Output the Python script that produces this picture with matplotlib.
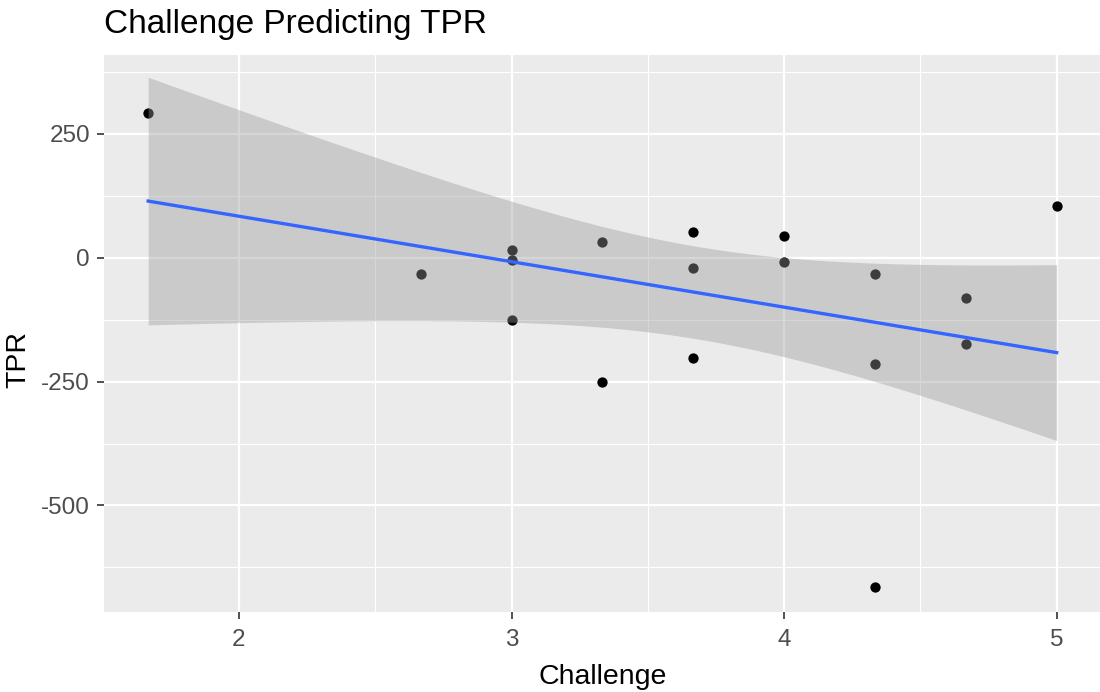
import numpy as np
import matplotlib.pyplot as plt

# data
challenge = [1.667, 2.667, 3.0, 3.0, 3.0, 3.333, 3.333, 3.667, 3.667, 3.667,
             4.0, 4.0, 4.333, 4.333, 4.333, 4.667, 4.667, 5.0]
tpr = [291, -33, 16, -5, -126, 32, -251, 52, -20, -203,
       44, -9, -33, -215, -664, -82, -175, 104]
x_ticks = [2, 3, 4, 5]
y_ticks = [-500, -250, 0, 250]

x = np.array(challenge)
y = np.array(tpr)

# lm fit with 95% confidence band (like geom_smooth(method = "lm"))
n = len(x)
slope, intercept = np.polyfit(x, y, 1)
xs = np.linspace(x.min(), x.max(), 80)
fit = intercept + slope * xs
resid = y - (intercept + slope * x)
s = np.sqrt(np.sum(resid ** 2) / (n - 2))
sxx = np.sum((x - x.mean()) ** 2)
se = s * np.sqrt(1 / n + (xs - x.mean()) ** 2 / sxx)
t_crit = 2.1199  # t(0.975, df=16)
lo = fit - t_crit * se
hi = fit + t_crit * se

plt.rcParams['font.family'] = ['Liberation Sans', 'DejaVu Sans']

fig = plt.figure(figsize=(11, 6.92), dpi=100)
ax = fig.add_axes([104 / 1100, (692 - 612) / 692, (1100 - 104) / 1100, (612 - 55) / 692])
ax.set_facecolor('#EBEBEB')
for sp in ax.spines.values():
    sp.set_visible(False)

ax.set_xlim(1.505, 5.159)
ax.set_ylim(-715, 409)

# grid
for v in [1.5, 2.5, 3.5, 4.5]:
    ax.axvline(v, color='white', lw=0.8, zorder=0)
for v in [375, 125, -125, -375, -625]:
    ax.axhline(v, color='white', lw=0.8, zorder=0)
for v in x_ticks:
    ax.axvline(v, color='white', lw=1.6, zorder=0)
for v in y_ticks:
    ax.axhline(v, color='white', lw=1.6, zorder=0)

ax.scatter(x, y, s=55, color='black', linewidths=0, zorder=2)
ax.fill_between(xs, lo, hi, color='#999999', alpha=0.4, linewidth=0, zorder=3)
ax.plot(xs, fit, color='#3366FF', lw=2.4, zorder=4)

ax.set_xticks(x_ticks)
ax.set_xticklabels([str(v) for v in x_ticks])
ax.set_yticks(y_ticks)
ax.set_yticklabels([str(v) for v in y_ticks])
ax.tick_params(axis='both', length=5, width=1.2, color='#333333',
               labelcolor='#4D4D4D', labelsize=17.5)
ax.tick_params(axis='x', pad=7)
ax.tick_params(axis='y', pad=5)

fig.text(104 / 1100, (692 - 33) / 692, 'Challenge Predicting TPR',
         fontsize=24, color='black', ha='left', va='baseline')
fig.text(603 / 1100, (692 - 684) / 692, 'Challenge',
         fontsize=20.5, color='black', ha='center', va='baseline')
fig.text(18 / 1100, 333 / 692, 'TPR', rotation=90,
         fontsize=20.5, color='black', ha='center', va='center')

fig.savefig('out.png', dpi=100)
